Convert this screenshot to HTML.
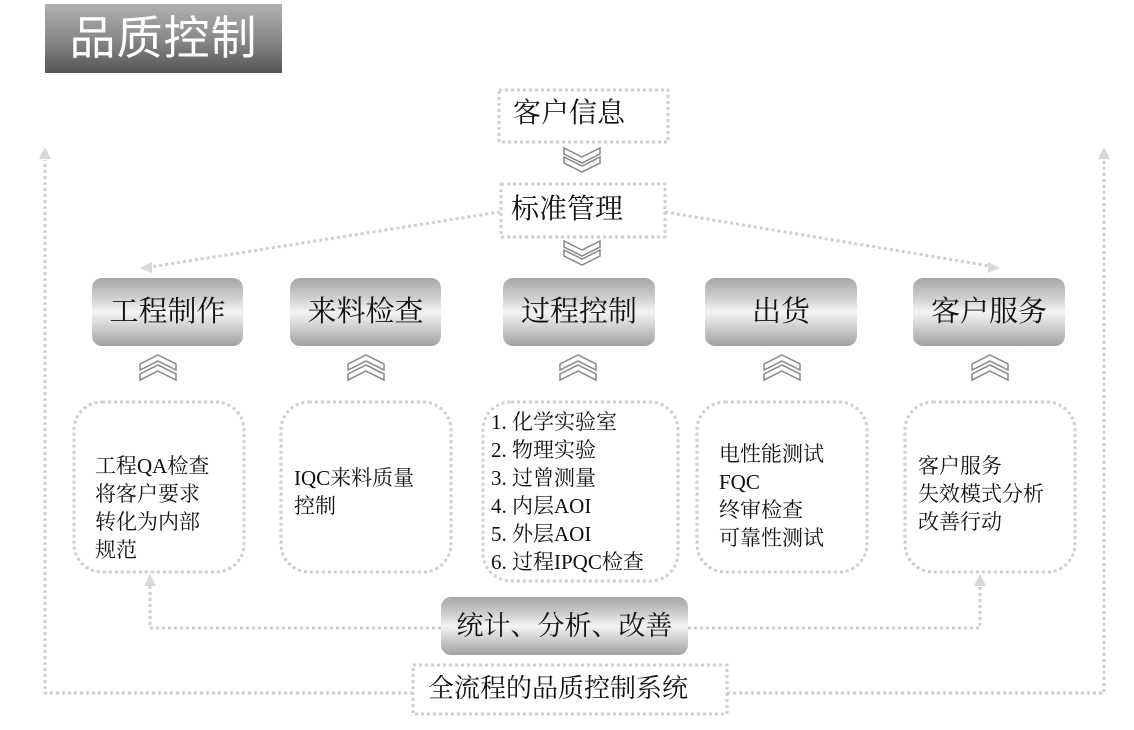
<!DOCTYPE html>
<html><head><meta charset="utf-8"><style>
body{margin:0;width:1134px;height:730px;background:#fff;position:relative;overflow:hidden;font-family:"Liberation Serif","Noto Serif CJK SC",serif;}
.a{position:absolute;}
.title{left:45px;top:4px;width:237px;height:69px;background:linear-gradient(#b0b0b0,#8a8a8a 50%,#555);color:#fff;font-family:"Liberation Sans","Noto Sans CJK SC",sans-serif;font-size:46px;line-height:69px;text-align:center;letter-spacing:1px;}
.btn{position:absolute;height:68px;border-radius:10px;background:linear-gradient(#a6a6a6,#d0d0d0 30%,#f4f4f4 50%,#d0d0d0 72%,#a0a0a0);font-family:"Liberation Serif","Noto Serif CJK SC",serif;font-size:29px;color:#111;text-align:center;line-height:68px;}
.tx{position:absolute;font-size:21px;line-height:28px;color:#111;}
.lbl{position:absolute;font-size:28px;color:#111;font-family:"Liberation Serif","Noto Serif CJK SC",serif;text-align:center;}
</style></head><body>
<svg class="a" style="left:0;top:0" width="1134" height="730">
<g fill="none" stroke="#cfcfcf" stroke-width="3" stroke-dasharray="3 3">
<rect x="499" y="90" width="169" height="52"/>
<rect x="501" y="184" width="164" height="53"/>
<line x1="500" y1="212" x2="150" y2="267"/>
<line x1="665" y1="212" x2="990" y2="266"/>
<rect x="74" y="402" width="170" height="170" rx="28"/>
<rect x="281" y="402" width="170" height="170" rx="28"/>
<rect x="483" y="402" width="195" height="179" rx="28"/>
<rect x="697" y="402" width="170" height="170" rx="28"/>
<rect x="905" y="402" width="170" height="170" rx="28"/>
<rect x="413" y="665" width="314" height="49"/>
<polyline points="441,628 150,628 150,585"/>
<polyline points="688,628 980,628 980,585"/>
<polyline points="413,693 45,693 45,160"/>
<polyline points="727,693 1104,693 1104,160"/>
</g>
<g fill="#d8d8d8">
<polygon points="140,268 152,262 152,273"/>
<polygon points="1000,268 988,262 988,273"/>
<polygon points="150,574 144,586 156,586"/>
<polygon points="980,574 974,586 986,586"/>
<polygon points="45,147 39,159 51,159"/>
<polygon points="1104,147 1098,159 1110,159"/>
</g>
<g fill="none" stroke="#888" stroke-width="1.5">
<polygon points="564,148 582,157 600,148 600,154 582,163 564,154"/>
<polygon points="564,157 582,166 600,157 600,163 582,172 564,163"/>
<polygon points="564,241 582,250 600,241 600,247 582,256 564,247"/>
<polygon points="564,250 582,259 600,250 600,256 582,265 564,256"/>
</g>
<g fill="none" stroke="#888" stroke-width="1.5">
<polygon points="140,364 158,355 176,364 176,370 158,361 140,370"/>
<polygon points="140,374 158,365 176,374 176,380 158,371 140,380"/>
<polygon points="348,364 366,355 384,364 384,370 366,361 348,370"/>
<polygon points="348,374 366,365 384,374 384,380 366,371 348,380"/>
<polygon points="560,364 578,355 596,364 596,370 578,361 560,370"/>
<polygon points="560,374 578,365 596,374 596,380 578,371 560,380"/>
<polygon points="764,364 782,355 800,364 800,370 782,361 764,370"/>
<polygon points="764,374 782,365 800,374 800,380 782,371 764,380"/>
<polygon points="972,364 990,355 1008,364 1008,370 990,361 972,370"/>
<polygon points="972,374 990,365 1008,374 1008,380 990,371 972,380"/>
</g>
</svg>
<div class="a title">品质控制</div>
<div class="lbl" style="left:499px;top:94px;width:140px;line-height:40px;">客户信息</div>
<div class="lbl" style="left:501px;top:190px;width:132px;line-height:40px;">标准管理</div>
<div class="btn" style="left:92px;top:278px;width:151px;">工程制作</div>
<div class="btn" style="left:290px;top:278px;width:151px;">来料检查</div>
<div class="btn" style="left:503px;top:278px;width:152px;">过程控制</div>
<div class="btn" style="left:705px;top:278px;width:152px;">出货</div>
<div class="btn" style="left:913px;top:278px;width:152px;">客户服务</div>
<div class="tx" style="left:95px;top:452px;">工程QA检查<br>将客户要求<br>转化为内部<br>规范</div>
<div class="tx" style="left:294px;top:464px;">IQC来料质量<br>控制</div>
<div class="tx" style="left:491px;top:408px;">1. 化学实验室<br>2. 物理实验<br>3. 过曾测量<br>4. 内层AOI<br>5. 外层AOI<br>6. 过程IPQC检查</div>
<div class="tx" style="left:719px;top:440px;">电性能测试<br>FQC<br>终审检查<br>可靠性测试</div>
<div class="tx" style="left:918px;top:452px;">客户服务<br>失效模式分析<br>改善行动</div>
<div class="btn" style="left:441px;top:597px;width:247px;height:58px;line-height:58px;font-size:27px;">统计、分析、改善</div>
<div class="lbl" style="left:420px;top:670px;width:276px;line-height:38px;font-size:26px;">全流程的品质控制系统</div>
</body></html>
